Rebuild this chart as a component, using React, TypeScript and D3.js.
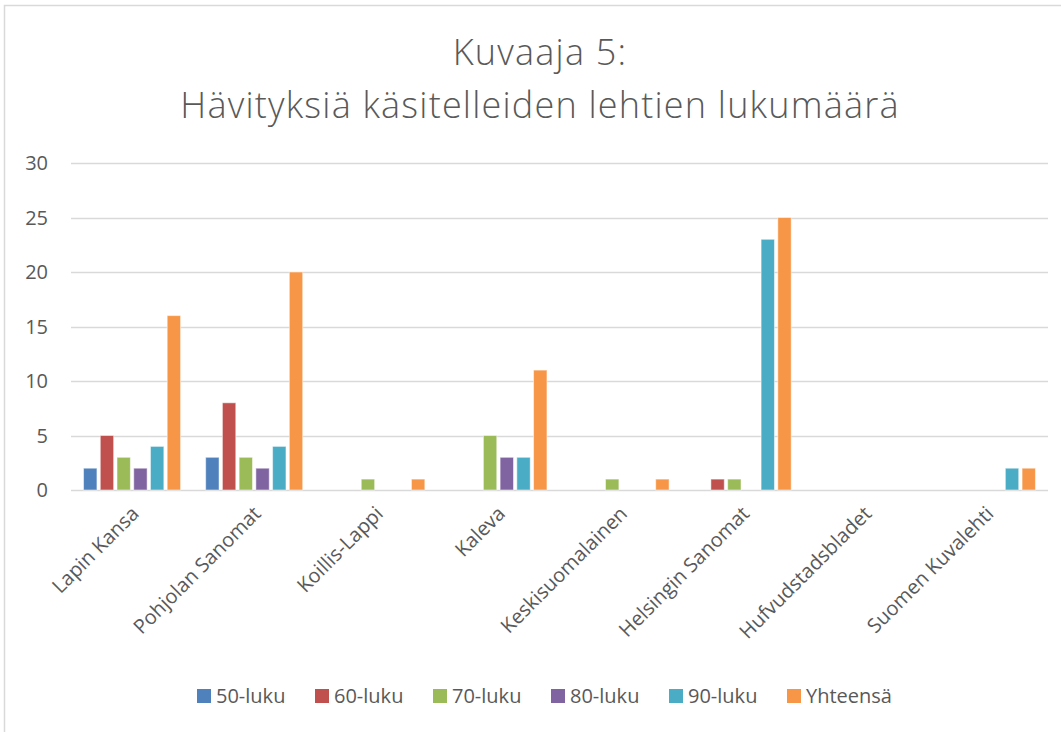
import React, { useEffect, useRef } from "react";
import * as d3 from "d3";

// newspapers on the x axis
const categories = [
  "Lapin Kansa",
  "Pohjolan Sanomat",
  "Koillis-Lappi",
  "Kaleva",
  "Keskisuomalainen",
  "Helsingin Sanomat",
  "Hufvudstadsbladet",
  "Suomen Kuvalehti",
];

const seriesNames = ["50-luku", "60-luku", "70-luku", "80-luku", "90-luku", "Yhteensä"];
const seriesColors = ["#4F81BD", "#C0504D", "#9BBB59", "#8064A2", "#4BACC6", "#F79646"];

// one array per series, same order as categories
const luku50 = [2, 3, 0, 0, 0, 0, 0, 0];
const luku60 = [5, 8, 0, 0, 0, 1, 0, 0];
const luku70 = [3, 3, 1, 5, 1, 1, 0, 0];
const luku80 = [2, 2, 0, 3, 0, 0, 0, 0];
const luku90 = [4, 4, 0, 3, 0, 23, 0, 2];
const yhteensa = [16, 20, 1, 11, 1, 25, 0, 2];

const yTicks = [0, 5, 10, 15, 20, 25, 30];

const titleLines = ["Kuvaaja 5:", "Hävityksiä käsitelleiden lehtien lukumäärä"];

const theme = {
  text: "#595959",
  grid: "#d9d9d9",
  frame: "#d9d9d9",
  font: "'Open Sans', 'Liberation Sans', sans-serif",
};

const App = () => {
  const svgRef = useRef<SVGSVGElement | null>(null);

  useEffect(() => {
    const width = 1061;
    const height = 732;
    const plot = { left: 71, right: 1048, top: 163, bottom: 490 };

    const svg = d3.select(svgRef.current);
    svg.selectAll("*").remove();
    svg.attr("width", width).attr("height", height);

    svg.append("rect").attr("width", width).attr("height", height).attr("fill", "#fff");

    // chart frame
    svg
      .append("rect")
      .attr("x", 4.5)
      .attr("y", 5.5)
      .attr("width", 1060)
      .attr("height", 740)
      .attr("fill", "none")
      .attr("stroke", theme.frame)
      .attr("stroke-width", 1.5);

    // title
    svg
      .append("g")
      .selectAll("text")
      .data(titleLines)
      .enter()
      .append("text")
      .attr("x", 540)
      .attr("y", (d, i) => 65 + i * 53)
      .attr("text-anchor", "middle")
      .attr("fill", theme.text)
      .style("font-family", theme.font)
      .style("font-size", "36px")
      .style("letter-spacing", "1.2px")
      .style("font-weight", 300)
      .text((d) => d);

    const series = [luku50, luku60, luku70, luku80, luku90, yhteensa];

    const x0 = d3.scaleBand<string>().domain(categories).range([plot.left, plot.right]).padding(0);
    const x1 = d3
      .scaleBand<number>()
      .domain(d3.range(seriesNames.length))
      .range([0, x0.bandwidth()])
      .paddingInner(0.2)
      .paddingOuter(0.75);
    const y = d3.scaleLinear().domain([0, 30]).range([plot.bottom, plot.top]);

    // gridlines
    svg
      .append("g")
      .selectAll("line")
      .data(yTicks)
      .enter()
      .append("line")
      .attr("x1", plot.left)
      .attr("x2", plot.right)
      .attr("y1", (d) => Math.round(y(d)) + 0.5)
      .attr("y2", (d) => Math.round(y(d)) + 0.5)
      .attr("stroke", theme.grid)
      .attr("stroke-width", 1.5);

    // y tick labels
    svg
      .append("g")
      .selectAll("text")
      .data(yTicks)
      .enter()
      .append("text")
      .attr("x", 48)
      .attr("y", (d) => y(d))
      .attr("dy", "0.35em")
      .attr("text-anchor", "end")
      .attr("fill", theme.text)
      .style("font-family", theme.font)
      .style("font-size", "20px")
      .text((d) => d);

    // bars
    const groups = svg
      .append("g")
      .selectAll("g")
      .data(categories)
      .enter()
      .append("g")
      .attr("transform", (d) => `translate(${x0(d)},0)`);

    groups
      .selectAll("rect")
      .data((d, ci) => series.map((s, si) => ({ si, v: s[ci] })).filter((b) => b.v > 0))
      .enter()
      .append("rect")
      .attr("x", (d) => x1(d.si) as number)
      .attr("y", (d) => y(d.v))
      .attr("width", x1.bandwidth())
      .attr("height", (d) => y(0) - y(d.v))
      .attr("fill", (d) => seriesColors[d.si])
      .attr("stroke", "#ffffff")
      .attr("stroke-opacity", 0.5)
      .attr("stroke-width", 1);

    // rotated category labels
    svg
      .append("g")
      .selectAll("text")
      .data(categories)
      .enter()
      .append("text")
      .attr(
        "transform",
        (d) => `translate(${(x0(d) as number) + x0.bandwidth() / 2 + 3},${plot.bottom + 20}) rotate(-45)`
      )
      .attr("text-anchor", "end")
      .attr("dy", "0.35em")
      .attr("fill", theme.text)
      .style("font-family", theme.font)
      .style("font-size", "20px")
      .text((d) => d);

    // legend
    const legend = svg
      .append("g")
      .selectAll("g")
      .data(seriesNames)
      .enter()
      .append("g")
      .attr("transform", (d, i) => `translate(${197 + i * 118},689)`);

    legend
      .append("rect")
      .attr("width", 14)
      .attr("height", 14)
      .attr("fill", (d, i) => seriesColors[i]);

    legend
      .append("text")
      .attr("x", 19)
      .attr("y", 7)
      .attr("dy", "0.35em")
      .attr("fill", theme.text)
      .style("font-family", theme.font)
      .style("font-size", "20px")
      .text((d) => d);
  }, []);

  return <svg ref={svgRef} style={{ position: "absolute", left: 0, top: 0, display: "block" }}></svg>;
};

export default App;
